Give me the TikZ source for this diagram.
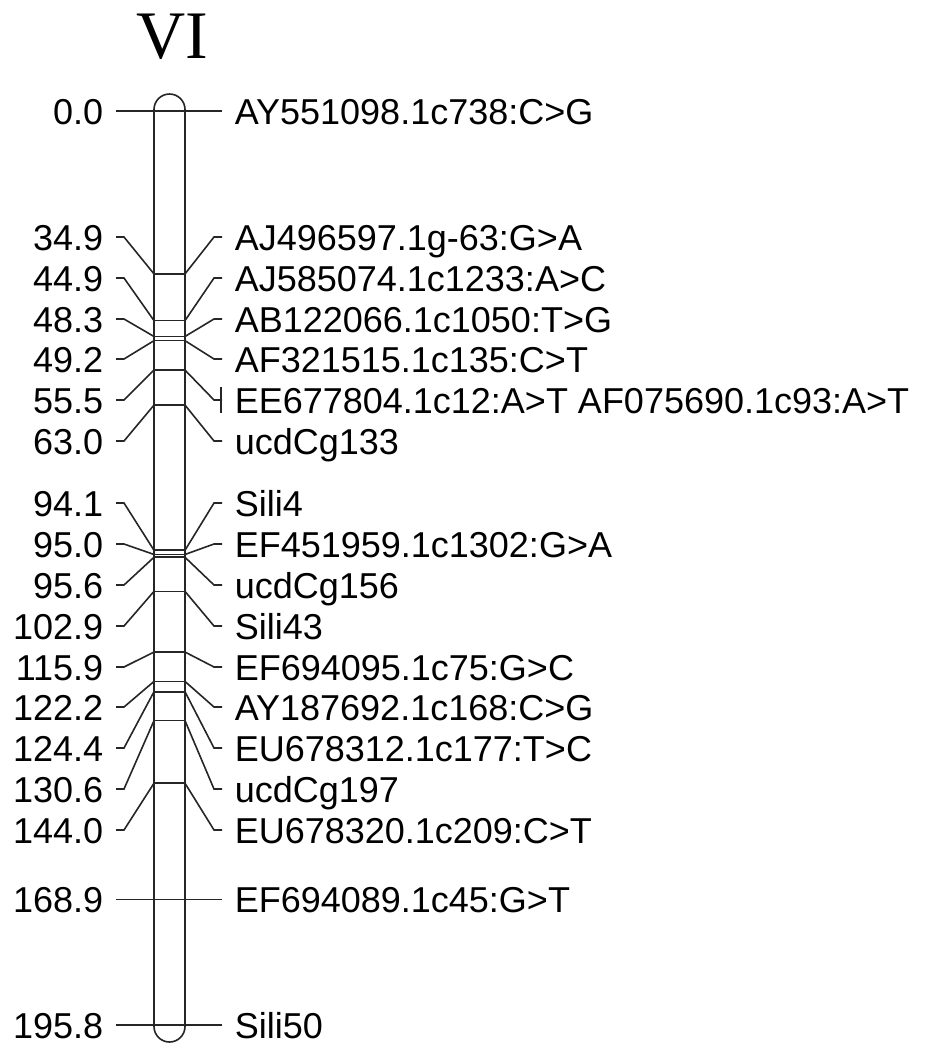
\documentclass[tikz,border=0pt]{standalone}
\usepackage{fontspec}
\setmainfont{Liberation Sans}
\newfontfamily\groupfont{Liberation Serif}
\usetikzlibrary{calc}

\begin{document}
\begin{tikzpicture}[x=0.5pt, y=-0.5pt, line width=0.8pt,
    cmlabel/.style={anchor=east, inner xsep=6pt, inner ysep=0pt, text height=13pt, text depth=0pt, font=\fontsize{18}{20}\selectfont},
    locus/.style={anchor=west, inner xsep=6pt, inner ysep=0pt, text height=13pt, text depth=0pt, font=\fontsize{18}{20}\selectfont}]
    \useasboundingbox (0,0) rectangle (934,1051);
    \node (title) at (172,37) {\groupfont\fontsize{34}{38}\selectfont VI};
    % linkage group bar
    \draw[black!85, rounded corners=7.75pt] (154,94) rectangle (185,1042);
    % loci with bent connectors
    \foreach \i/\cmval/\ly/\locustxt in {
        2/34.9/237/{AJ496597.1g-63:G>A},
        3/44.9/278/{AJ585074.1c1233:A>C},
        4/48.3/319/{AB122066.1c1050:T>G},
        5/49.2/359/{AF321515.1c135:C>T},
        6/55.5/400/{EE677804.1c12:A>T AF075690.1c93:A>T},
        7/63.0/441/{ucdCg133},
        8/94.1/503/{Sili4},
        9/95.0/544/{EF451959.1c1302:G>A},
        10/95.6/585/{ucdCg156},
        11/102.9/626/{Sili43},
        12/115.9/667/{EF694095.1c75:G>C},
        13/122.2/707/{AY187692.1c168:C>G},
        14/124.4/748/{EU678312.1c177:T>C},
        15/130.6/789/{ucdCg197},
        16/144.0/830/{EU678320.1c209:C>T}}
    {
        \pgfmathsetmacro{\my}{111+4.668*\cmval}
        \node[cmlabel] (l\i) at (116,\ly) {\cmval};
        \node[locus] (r\i) at (222,\ly) {\locustxt};
        \coordinate (ml\i) at (154,\my);
        \coordinate (mr\i) at (185,\my);
        \draw[black!85] (ml\i) -- (mr\i);
        \draw[black!85] (l\i.east) -- ++(8,0) -- (ml\i);
        \draw[black!85] (mr\i) -- ([xshift=-4pt]r\i.west) -- (r\i.west);
    }
    % two loci at one position
    \draw[black!85] ([xshift=-0.5pt, yshift=-6.5pt]r6.west) -- ([xshift=-0.5pt, yshift=6.5pt]r6.west);
    % loci with straight connectors
    \foreach \i/\cmval/\locustxt in {
        1/0.0/{AY551098.1c738:C>G},
        17/168.9/{EF694089.1c45:G>T},
        18/195.8/{Sili50}}
    {
        \pgfmathsetmacro{\my}{111+4.668*\cmval}
        \node[cmlabel] (l\i) at (116,\my) {\cmval};
        \node[locus] (r\i) at (222,\my) {\locustxt};
        \draw[black!85] (l\i.east) -- (r\i.west);
    }
\end{tikzpicture}
\end{document}
